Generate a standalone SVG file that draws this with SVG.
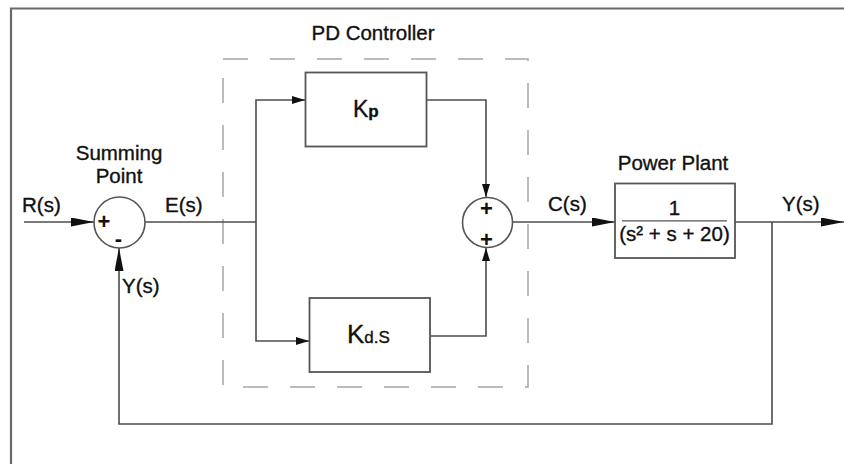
<svg xmlns="http://www.w3.org/2000/svg" width="844" height="464" viewBox="0 0 844 464">
<style>
.t{font-family:"Liberation Sans",Arial,sans-serif;font-size:20.5px;fill:#111;stroke:#111;stroke-width:0.35}
.ln{fill:none;stroke:#4d4d4d;stroke-width:1.6}
.bx{fill:#fff;stroke:#555;stroke-width:1.8}
.c{fill:#fff;stroke:#555;stroke-width:1.6}
.sg{font-family:"Liberation Sans",Arial,sans-serif;font-size:22px;font-weight:bold;fill:#111;text-anchor:middle}
</style>
<defs>
<marker id="big" markerUnits="userSpaceOnUse" markerWidth="24" markerHeight="10" refX="23" refY="4.5" orient="auto"><path d="M0,0 L23,4.5 L0,9 z" fill="#111"/></marker>
<marker id="sm" markerUnits="userSpaceOnUse" markerWidth="14" markerHeight="10" refX="13" refY="4" orient="auto"><path d="M0,0 L13,4 L0,8 z" fill="#111"/></marker>
</defs>
<rect width="844" height="464" fill="#fff"/>
<path d="M11,464 L11,8.5 L844,8.5" fill="none" stroke="#6a6a6a" stroke-width="2.2"/>
<g id="pd-controller">
<rect x="223" y="59" width="305" height="328" fill="none" stroke="#a6a6a6" stroke-width="1.5" stroke-dasharray="25,22"/>
<text class="t" x="373" y="40" text-anchor="middle">PD Controller</text>
</g>
<g id="connectors">
<path class="ln" d="M24,222 L94,222" marker-end="url(#big)"/>
<path class="ln" d="M145,222 L256,222"/>
<path class="ln" d="M256,222 L256,100 L305,100" marker-end="url(#sm)"/>
<path class="ln" d="M256,222 L256,341 L309,341" marker-end="url(#sm)"/>
<path class="ln" d="M427,100 L486,100 L486,197" marker-end="url(#sm)"/>
<path class="ln" d="M430,336 L486,336 L486,248" marker-end="url(#sm)"/>
<path class="ln" d="M512,222 L615,222" marker-end="url(#big)"/>
<path class="ln" d="M735,222 L844,222" marker-end="url(#big)"/>
<path class="ln" d="M772,222 L772,424 L119,424 L119,248" marker-end="url(#big)"/>
</g>
<g id="summing-point">
<circle class="c" cx="119.5" cy="222.5" r="25.5"/>
<text class="sg" x="104" y="229">+</text>
<text class="sg" x="118.5" y="246">-</text>
<text class="t" x="119" y="160" text-anchor="middle">Summing</text>
<text class="t" x="119" y="183" text-anchor="middle">Point</text>
</g>
<g id="sum2">
<circle class="c" cx="487.5" cy="222.5" r="25"/>
<text class="sg" x="486.5" y="215.5">+</text>
<text class="sg" x="486.5" y="247">+</text>
</g>
<g id="kp">
<rect class="bx" x="305.5" y="72.5" width="121" height="74"/>
<text class="t" x="353" y="117" style="font-size:23px">K<tspan style="font-size:17px;font-weight:bold">p</tspan></text>
</g>
<g id="kd">
<rect class="bx" x="309.5" y="298" width="120.5" height="74"/>
<text class="t" x="347" y="343" style="font-size:26px">K<tspan style="font-size:17px">d.S</tspan></text>
</g>
<g id="plant">
<rect class="bx" x="615" y="183.5" width="120" height="74.5"/>
<text class="t" x="673" y="170" text-anchor="middle">Power Plant</text>
<text class="t" x="674.5" y="215" text-anchor="middle">1</text>
<line x1="622" y1="220.8" x2="727" y2="220.8" stroke="#555" stroke-width="1.3"/>
<text class="t" x="674.5" y="240.5" text-anchor="middle">(s² + s + 20)</text>
</g>
<g id="labels">
<text class="t" x="22" y="212">R(s)</text>
<text class="t" x="165" y="212">E(s)</text>
<text class="t" x="548" y="211">C(s)</text>
<text class="t" x="782" y="211">Y(s)</text>
<text class="t" x="122" y="293">Y(s)</text>
</g>
</svg>
